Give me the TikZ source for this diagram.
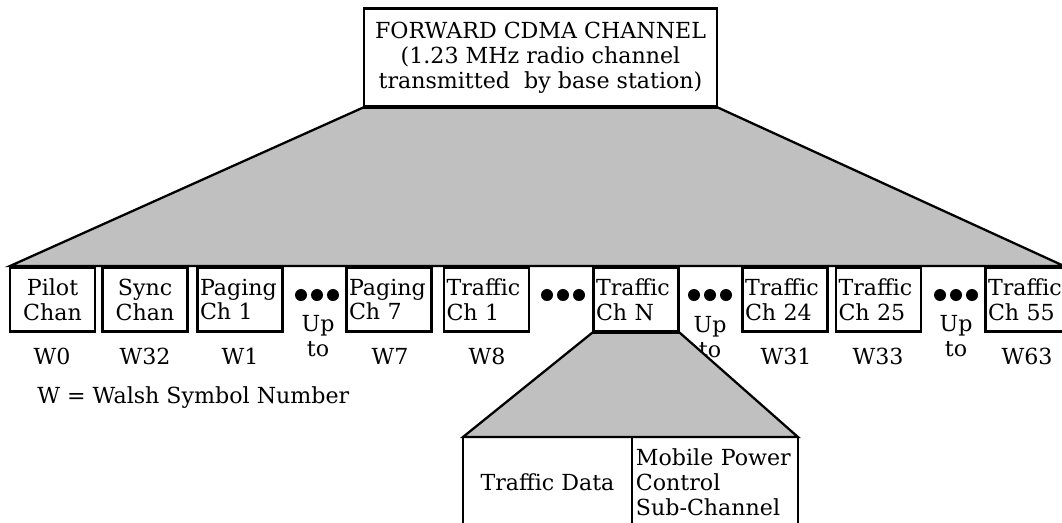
\documentclass[tikz,border=0pt]{standalone}
\usepackage{fontspec}
\setmainfont{DejaVu Serif}
\usetikzlibrary{positioning}
\definecolor{fangray}{RGB}{192,192,192}
\newcommand{\chfont}{\fontsize{12.6}{14.2}\selectfont}
\tikzset{
  chbox/.style={draw, line width=1.3pt, fill=white, minimum height=1.28cm,
    text width=1.6cm, inner xsep=0.05cm, align=left, font=\chfont},
  fan/.style={fill=fangray, draw=black, line width=1.3pt, line join=miter},
  wlabel/.style={font=\chfont, inner sep=0pt},
  upto/.style={font=\chfont, align=center, inner sep=0pt},
}

\begin{document}
\begin{tikzpicture}[x=0.02cm, y=-0.02cm]
        \useasboundingbox (0,0) rectangle (1062,522);

        % top box and the big fan below it
        \node[draw, line width=1.3pt, fill=white, minimum width=7.06cm, minimum height=1.96cm,
              align=center, font=\chfont] (fwd) at (540.5,57.5)
              {FORWARD CDMA CHANNEL\\(1.23 MHz radio channel\\transmitted\ \ by base station)};
        \coordinate (fanL) at (10,266);
        \coordinate (fanR) at (1064,266);
        \filldraw[fan] (fwd.south west) -- (fwd.south east) -- (fanR) -- (fanL) -- cycle;

        % channel boxes
        \node[chbox, align=center] (pilot) at (52.5,299.5) {Pilot\\Chan};
        \node[chbox, align=center] (sync) at (145,299.5) {Sync\\Chan};
        \node[chbox] (page1) at (240,299.5) {Paging\\Ch 1};
        \node[chbox] (page7) at (389,299.5) {Paging\\Ch 7};
        \node[chbox] (traf1) at (486.5,299.5) {Traffic\\Ch 1};
        \node[chbox] (trafN) at (636,299.5) {Traffic\\Ch N};
        \node[chbox] (traf24) at (785,299.5) {Traffic\\Ch 24};
        \node[chbox] (traf25) at (878.5,299.5) {Traffic\\Ch 25};
        \node[chbox] (traf55) at (1028,299.5) {Traffic\\Ch 55};

        % dots
        \foreach \x in {301,317,333, 547,563,579, 694,710,726, 940,956,972}
            \fill (\x,295) circle (6);

        \node[upto] (upA) at (318,336) {Up\\to};
        \node[upto] (upB) at (710,337) {Up\\to};
        \node[upto] (upC) at (956,336) {Up\\to};

        % walsh numbers
        \node[wlabel] (w0) at (52,356) {W0};
        \node[wlabel] (w32) at (145,356) {W32};
        \node[wlabel] (w1) at (240,356) {W1};
        \node[wlabel] (w7) at (390,356) {W7};
        \node[wlabel] (w8) at (487,356) {W8};
        \node[wlabel] (w31) at (786,356) {W31};
        \node[wlabel] (w33) at (878,356) {W33};
        \node[wlabel] (w63) at (1027,356) {W63};

        \node[wlabel, anchor=west] (wkey) at (37,398) {W = Walsh Symbol Number};

        % traffic channel split
        \node[draw, line width=1.3pt, outer sep=0pt, anchor=north west, minimum width=3.38cm,
              minimum height=1.8cm, font=\chfont] (data) at (463,437) {Traffic Data};
        \node[draw, line width=1.3pt, outer sep=0pt, anchor=north west, minimum height=1.8cm,
              text width=3.16cm, inner xsep=0.08cm, align=left, font=\chfont] (sub) at (data.north east)
              {Mobile Power\\Control\\Sub-Channel};
        \filldraw[fan] (trafN.south west) -- (trafN.south east) -- (sub.north east) -- (data.north west) -- cycle;
    \end{tikzpicture}
\end{document}
